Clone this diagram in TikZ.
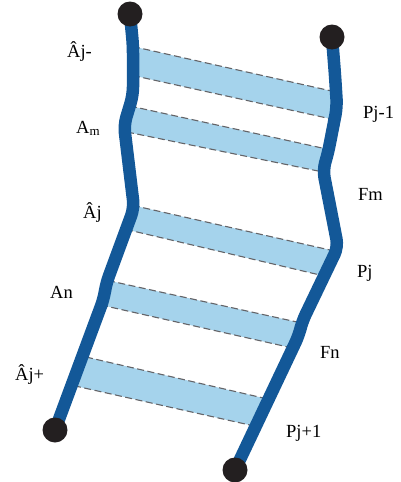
\documentclass[tikz,border=0pt]{standalone}
\usepackage{fontspec}
\setmainfont{Liberation Serif}
\definecolor{strandblue}{RGB}{19,88,152}
\definecolor{rungblue}{RGB}{165,211,236}
\definecolor{beadgray}{RGB}{35,31,32}
\definecolor{rimgray}{RGB}{100,100,104}
\begin{document}
\begin{tikzpicture}[x=1pt, y=-1pt, font=\fontsize{18.5}{22}\selectfont,
      strand/.style={draw=strandblue, line width=12.5pt, rounded corners=8pt},
      rung/.style={fill=rungblue},
      rim/.style={draw=rimgray, line width=1.1pt, dash pattern=on 7pt off 3.5pt},
      bead/.style={circle, fill=beadgray, minimum size=25pt, inner sep=0pt},
      lab/.style={anchor=base west, inner sep=0pt}]
    \useasboundingbox (0,0) rectangle (401,482);
    % strand ends
    \coordinate (ltop) at (130,14);
    \coordinate (lbot) at (55,430);
    \coordinate (rtop) at (332,37);
    \coordinate (rbot) at (235,470);
    % rung corners: tl, tr, bl, br
    \coordinate (r1-tl) at (133,46.5);  \coordinate (r1-tr) at (336,92);
    \coordinate (r1-bl) at (133,75.5);  \coordinate (r1-br) at (336,120);
    \coordinate (r2-tl) at (130,106);   \coordinate (r2-tr) at (328,149.3);
    \coordinate (r2-bl) at (127,132);   \coordinate (r2-br) at (323,172);
    \coordinate (r3-tl) at (133,205.4); \coordinate (r3-tr) at (337,251.6);
    \coordinate (r3-bl) at (126,229.4); \coordinate (r3-br) at (328,276.9);
    \coordinate (r4-tl) at (108,280.5); \coordinate (r4-tr) at (302,323.1);
    \coordinate (r4-bl) at (101,305);   \coordinate (r4-br) at (296,348.8);
    \coordinate (r5-tl) at (86,357);    \coordinate (r5-tr) at (272,400);
    \coordinate (r5-bl) at (74,385.7);  \coordinate (r5-br) at (260,427.3);
    \foreach \n in {1,...,5} {
      \fill[rung] (r\n-tl) -- (r\n-tr) -- (r\n-br) -- (r\n-bl) -- cycle;
      \draw[rim] (r\n-tl) -- (r\n-tr);
      \draw[rim] (r\n-bl) -- (r\n-br);
    }
    % the two strands
    \draw[strand] (ltop) -- (133,45) -- (133,95) -- (124,125) -- (134,208)
      -- (106,284) -- (104,298) -- (lbot);
    \draw[strand] (rtop) -- (335,75) -- (337,107) -- (328,153) -- (323,170)
      -- (338,247) -- (302,322) -- (299,335) -- (rbot);
    \node[bead] (ltopbead) at (ltop) {};
    \node[bead] (lbotbead) at (lbot) {};
    \node[bead] (rtopbead) at (rtop) {};
    \node[bead] (rbotbead) at (rbot) {};
    % labels
    \node[lab] (ajminus) at (67,57) {Âj-};
    \node[lab] (am) at (76,133) {A\textsubscript{m}};
    \node[lab] (aj) at (83,218) {Âj};
    \node[lab] (an) at (50,298) {An};
    \node[lab] (ajplus) at (15,380) {Âj+};
    \node[lab] (pjminus) at (363,118) {Pj-1};
    \node[lab] (fm) at (358,200) {Fm};
    \node[lab] (pj) at (357,277) {Pj};
    \node[lab] (fn) at (320,358) {Fn};
    \node[lab] (pjplus) at (286,437) {Pj+1};
  \end{tikzpicture}
\end{document}
